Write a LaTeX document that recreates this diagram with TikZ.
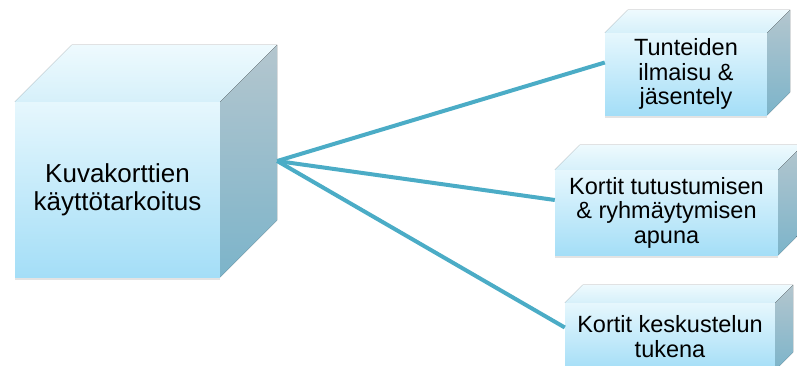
\documentclass[tikz,border=0pt]{standalone}
\usepackage{fontspec}
\setmainfont{Liberation Sans}
\usetikzlibrary{shadows}

\definecolor{linkblue}{RGB}{75,172,198}
\definecolor{frontTop}{RGB}{230,247,253}
\definecolor{frontBot}{RGB}{164,222,247}
\definecolor{roofA}{RGB}{238,250,254}
\definecolor{roofB}{RGB}{214,240,250}
\definecolor{sideTop}{RGB}{180,198,206}
\definecolor{sideBot}{RGB}{124,180,202}

\begin{document}
\begin{tikzpicture}[
  x=1pt,y=1pt,
  front/.style={inner sep=0pt,align=center,top color=frontTop,bottom color=frontBot,
    drop shadow={shadow xshift=0pt,shadow yshift=-3pt,opacity=.22}},
  roof/.style={top color=roofA,bottom color=roofB},
  side/.style={top color=sideTop,bottom color=sideBot},
  link/.style={linkblue,line width=4pt}
]
  \clip (0,0) rectangle (797,-365);

  \node[front,minimum width=205,minimum height=175,font=\fontsize{26}{28}\selectfont]
    (purpose) at (117.5,-189.5) {Kuvakorttien\\käyttötarkoitus};
  \node[front,minimum width=162,minimum height=82,font=\fontsize{23.5}{24.5}\selectfont]
    (feel) at (686,-74) {Tunteiden\\ilmaisu \&\\jäsentely};
  \node[front,minimum width=223,minimum height=85,font=\fontsize{23.5}{24.5}\selectfont]
    (intro) at (666.5,-212.5) {Kortit tutustumisen\\\& ryhmäytymisen\\apuna};
  \node[front,minimum width=210,minimum height=67,font=\fontsize{23.5}{24.5}\selectfont]
    (talk) at (670,-336.5) {Kortit keskustelun\\tukena};

  % top and side faces of the boxes
  \foreach \n/\d in {purpose/57,feel/23,intro/25,talk/18}{
    \fill[roof] (\n.north west) -- (\n.north east) -- ([shift={(\d,\d)}]\n.north east)
      -- ([shift={(\d,\d)}]\n.north west) -- cycle;
    \fill[side] (\n.north east) -- ([shift={(\d,\d)}]\n.north east)
      -- ([shift={(\d,\d)}]\n.south east) -- (\n.south east) -- cycle;
  }

  \coordinate (hub) at ([shift={(57,28.5)}]purpose.east);
  \draw[link] (hub) -- ([yshift=11.5pt]feel.west);
  \draw[link] (hub) -- ([yshift=12.5pt]intro.west);
  \draw[link] (hub) -- ([yshift=9pt]talk.west);
\end{tikzpicture}
\end{document}
